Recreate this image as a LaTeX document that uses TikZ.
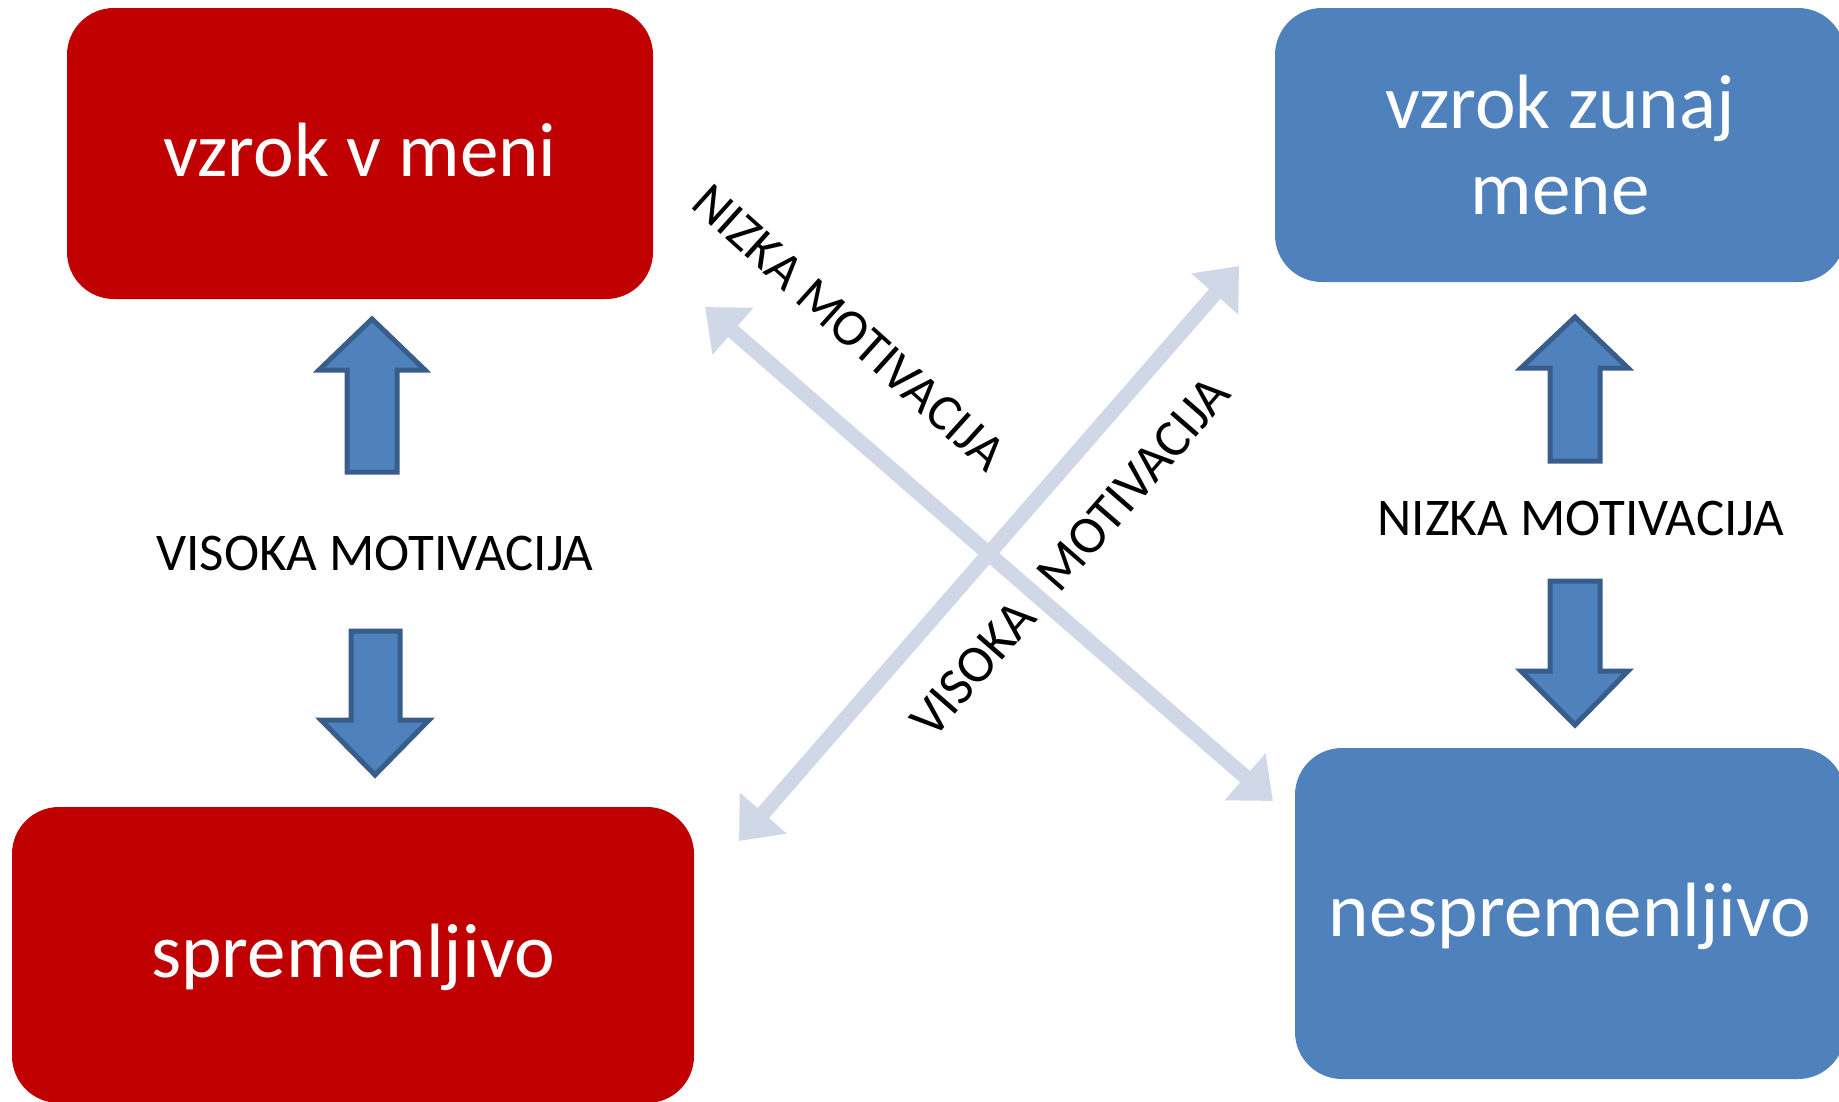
\documentclass[tikz,border=0pt]{standalone}
\usepackage{fontspec}
\setmainfont{Carlito}
\usetikzlibrary{arrows.meta}
\definecolor{boxred}{HTML}{C00000}
\definecolor{boxblue}{HTML}{4F81BD}
\definecolor{arrowedge}{HTML}{385D8A}
\definecolor{crosscol}{HTML}{D0D8E8}
\tikzset{
  box/.style={rounded corners=47pt, inner sep=0pt, text=white,
    font=\fontsize{77}{86}\selectfont, align=center},
  oneline/.style={text height=55pt, text depth=10pt},
  redbox/.style={box, fill=boxred},
  bluebox/.style={box, fill=boxblue},
  blockarrow/.style={fill=boxblue, draw=arrowedge, line width=5pt, line join=miter},
  crossarrow/.style={draw=crosscol, line width=15pt,
    {Triangle[length=37pt,width=60pt]}-{Triangle[length=37pt,width=60pt]}},
  lbl/.style={font=\fontsize{53}{60}\selectfont, anchor=base, inner sep=0pt, text=black}
}
\begin{document}
\begin{tikzpicture}[x=1pt,y=-1pt]
\useasboundingbox (0,0) rectangle (1839,1101);
\clip (0,0) rectangle (1839,1101);

% boxes
\node[redbox, oneline, minimum width=586pt, minimum height=291pt] (b1) at (360,153.5) {vzrok v meni};
\node[redbox, oneline, minimum width=682pt, minimum height=296pt] (b2) at (353,955) {spremenljivo};
\node[bluebox, minimum width=570pt, minimum height=274pt] (b3) at (1560,145) {vzrok zunaj\\mene};
\node[bluebox, oneline, minimum width=550pt, minimum height=331pt] (b4) at (1570,913.5) {nespremenljivo};

% diagonal arrows
\coordinate (aS) at (705,307);
\coordinate (aE) at (1273,801);
\coordinate (bS) at (739,841);
\coordinate (bE) at (1239,266);
\draw[crossarrow] (aS) -- (aE);
\draw[crossarrow] (bS) -- (bE);

% block arrows
\draw[blockarrow] (347,472) -- (347,370) -- (319,370) -- (372,319) -- (425,370) -- (397,370) -- (397,472) -- cycle;
\draw[blockarrow] (351,631) -- (400,631) -- (400,720) -- (429,720) -- (375,775) -- (321,720) -- (351,720) -- cycle;
\draw[blockarrow] (1550,461) -- (1550,368) -- (1521,368) -- (1575,317) -- (1628,368) -- (1600,368) -- (1600,461) -- cycle;
\draw[blockarrow] (1550,581) -- (1600,581) -- (1600,671) -- (1628,671) -- (1575,725) -- (1521,671) -- (1550,671) -- cycle;

% labels
\node[lbl] (l1) at (375,570) {VISOKA MOTIVACIJA};
\node[lbl] (l2) at (1581,535) {NIZKA MOTIVACIJA};
\node[lbl, font=\fontsize{52}{60}\selectfont, rotate=-42] (l3) at (838,340) {NIZKA MOTIVACIJA};
\node[lbl, rotate=49] (l4) at (1083,568) {VISOKA\hspace{0.6em}MOTIVACIJA};
\end{tikzpicture}
\end{document}
